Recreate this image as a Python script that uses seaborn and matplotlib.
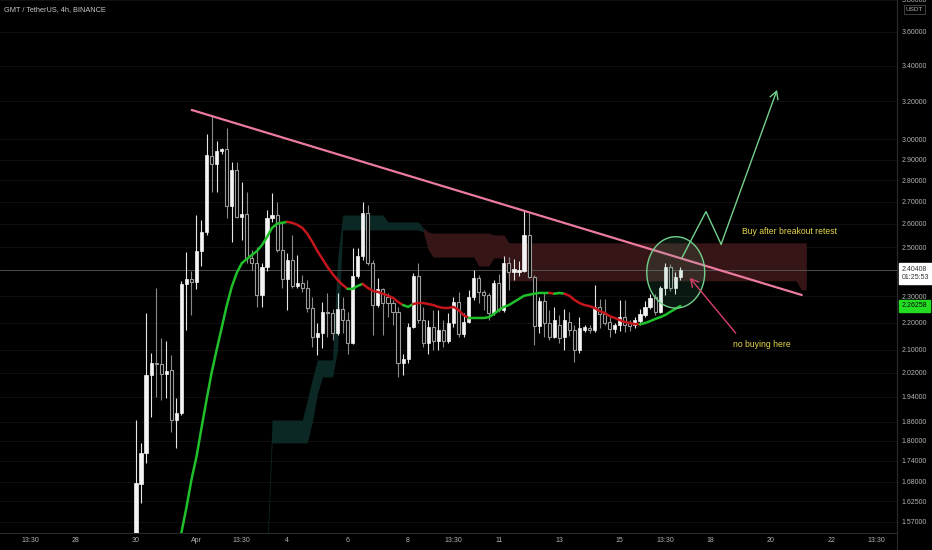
import numpy as np
import pandas as pd
import matplotlib
matplotlib.use("Agg")
import matplotlib.pyplot as plt
import matplotlib.transforms as mtransforms
from matplotlib.ticker import NullLocator
from matplotlib import font_manager
from matplotlib.lines import Line2D
import seaborn as sns

# GMT / USDT, 4h candles (candle 0 = Mar 30 00:00)
opens = [1.45, 1.673, 1.764, 2.013, 2.054, 2.05, 2.016, 2.03, 1.865, 1.887,
         2.349, 2.369, 2.355, 2.483, 2.565, 2.918, 2.877, 2.94, 2.95, 2.68,
         2.85, 2.63, 2.645, 2.454, 2.435, 2.305, 2.417, 2.627, 2.64, 2.488,
         2.369, 2.446, 2.341, 2.353, 2.333, 2.255, 2.147, 2.161, 2.24, 2.236,
         2.161, 2.25, 2.209, 2.125, 2.381, 2.463, 2.649, 2.433, 2.266, 2.329,
         2.298, 2.274, 2.24, 2.054, 2.068, 2.183, 2.381, 2.209, 2.125, 2.183,
         2.132, 2.172, 2.132, 2.198, 2.278, 2.158, 2.202, 2.298, 2.373, 2.317,
         2.305, 2.236, 2.353, 2.247, 2.433, 2.397, 2.397, 2.40, 2.552, 2.377,
         2.187, 2.282, 2.198, 2.147, 2.19, 2.147, 2.202, 2.172, 2.10, 2.172,
         2.18, 2.172, 2.259, 2.232, 2.202, 2.176, 2.19, 2.22, 2.198, 2.19,
         2.205, 2.228, 2.259, 2.298, 2.24, 2.333, 2.417, 2.333, 2.377]
closes = [1.676, 1.764, 2.013, 2.054, 2.05, 2.016, 2.028, 1.865, 1.887, 2.349,
          2.369, 2.355, 2.483, 2.565, 2.92, 2.877, 2.94, 2.95, 2.68, 2.85,
          2.63, 2.645, 2.454, 2.435, 2.305, 2.417, 2.627, 2.64, 2.488, 2.369,
          2.446, 2.341, 2.353, 2.333, 2.255, 2.147, 2.161, 2.24, 2.236, 2.161,
          2.25, 2.209, 2.125, 2.381, 2.463, 2.649, 2.433, 2.266, 2.329, 2.274,
          2.274, 2.24, 2.054, 2.068, 2.183, 2.381, 2.209, 2.125, 2.183, 2.132,
          2.172, 2.132, 2.198, 2.278, 2.158, 2.202, 2.298, 2.373, 2.317, 2.305,
          2.236, 2.353, 2.247, 2.433, 2.397, 2.409, 2.405, 2.552, 2.377, 2.187,
          2.282, 2.198, 2.147, 2.209, 2.143, 2.209, 2.172, 2.10, 2.18, 2.183,
          2.172, 2.259, 2.232, 2.198, 2.176, 2.19, 2.22, 2.19, 2.187, 2.209,
          2.232, 2.259, 2.294, 2.24, 2.333, 2.417, 2.333, 2.377, 2.404]
highs = [1.865, 1.794, 2.235, 2.089, 2.333, 2.143, 2.132, 2.083, 1.937, 2.361,
         2.479, 2.40, 2.64, 2.618, 3.03, 3.12, 2.99, 2.955, 3.06, 2.89,
         2.89, 2.79, 2.745, 2.488, 2.50, 2.433, 2.662, 2.74, 2.70, 2.605,
         2.475, 2.552, 2.467, 2.385, 2.365, 2.298, 2.198, 2.278, 2.313, 2.25,
         2.313, 2.298, 2.24, 2.496, 2.496, 2.70, 2.686, 2.446, 2.373, 2.333,
         2.313, 2.286, 2.259, 2.086, 2.198, 2.393, 2.433, 2.259, 2.209, 2.247,
         2.247, 2.209, 2.236, 2.298, 2.317, 2.236, 2.325, 2.405, 2.385, 2.325,
         2.313, 2.365, 2.389, 2.463, 2.458, 2.45, 2.44, 2.662, 2.65, 2.385,
         2.298, 2.313, 2.247, 2.259, 2.228, 2.25, 2.24, 2.19, 2.22, 2.19,
         2.19, 2.345, 2.29, 2.29, 2.22, 2.20, 2.286, 2.286, 2.21, 2.22,
         2.25, 2.28, 2.31, 2.31, 2.34, 2.433, 2.43, 2.397, 2.415]
lows = [1.42, 1.62, 1.734, 1.875, 1.94, 1.93, 1.937, 1.828, 1.779, 1.88,
        2.172, 2.228, 2.329, 2.42, 2.55, 2.745, 2.745, 2.925, 2.627, 2.52,
        2.625, 2.53, 2.433, 2.405, 2.259, 2.259, 2.40, 2.61, 2.48, 2.333,
        2.247, 2.333, 2.333, 2.317, 2.24, 2.111, 2.083, 2.108, 2.147, 2.136,
        2.155, 2.161, 2.086, 2.12, 2.373, 2.446, 2.425, 2.154, 2.259, 2.154,
        2.22, 2.19, 2.006, 2.013, 2.054, 2.18, 2.20, 2.111, 2.086, 2.10,
        2.10, 2.111, 2.125, 2.183, 2.147, 2.147, 2.198, 2.286, 2.274, 2.247,
        2.209, 2.228, 2.24, 2.24, 2.325, 2.365, 2.38, 2.397, 2.373, 2.118,
        2.161, 2.147, 2.136, 2.143, 2.125, 2.10, 2.15, 2.058, 2.09, 2.165,
        2.16, 2.165, 2.18, 2.19, 2.147, 2.16, 2.17, 2.165, 2.17, 2.18,
        2.19, 2.22, 2.25, 2.23, 2.236, 2.305, 2.32, 2.31, 2.365]

# trend moving average (starts at candle 8), green/red run lengths
ma_start = 8
ma_values = [1.478, 1.54, 1.607, 1.685, 1.752, 1.840, 1.930, 2.020, 2.100, 2.180,
             2.263, 2.337, 2.393, 2.433, 2.45, 2.467, 2.483, 2.509, 2.543, 2.583,
             2.601, 2.605, 2.609, 2.605, 2.596, 2.583, 2.557, 2.522, 2.483, 2.45,
             2.417, 2.389, 2.365, 2.345, 2.329, 2.329, 2.341, 2.349, 2.333, 2.321,
             2.317, 2.31, 2.302, 2.294, 2.278, 2.266, 2.259, 2.27, 2.274, 2.274,
             2.27, 2.266, 2.259, 2.255, 2.255, 2.259, 2.247, 2.228, 2.217, 2.217,
             2.217, 2.217, 2.22, 2.232, 2.247, 2.259, 2.266, 2.278, 2.29, 2.302,
             2.306, 2.31, 2.313, 2.313, 2.313, 2.31, 2.313, 2.31, 2.302, 2.286,
             2.274, 2.266, 2.262, 2.255, 2.243, 2.236, 2.224, 2.217, 2.209, 2.202,
             2.198, 2.194, 2.194, 2.198, 2.205, 2.213, 2.22, 2.228, 2.24, 2.251,
             2.26258]
ma_runs = [23, 12, 3, 8, 2, 11, 16, 1, 2, 15, 8]  # alternating, first run green

# cloud (starts at candle 26, runs past the last candle), teal run then red run
cloud_start = 26
cloud_top = ([1.50] + [1.865] * 7 + [1.93, 2.00, 2.065, 2.065, 2.065, 2.065, 2.45]
             + [2.64] * 9 + [2.609] * 7 + [2.583]
             + [2.565] + [2.56] * 9 + [2.56] * 3 + [2.552] * 3 + [2.518] * 60)
cloud_bot = ([1.46] + [1.794] * 7 + [1.794, 1.86, 1.95, 2.006, 2.006, 2.006, 2.10]
             + [2.574] * 9 + [2.574] * 7 + [2.565]
             + [2.488] + [2.458] * 9 + [2.421] * 3 + [2.454] * 3 + [2.361] * 58 + [2.325] * 2)
cloud_teal_len = 32

# drawings on the chart (candle index, price)
trend_x = [11.05, 132.1]
trend_y = [3.154, 2.305]
path_x = [108.3, 113.1, 116.1, 127.2]
path_y = [2.454, 2.655, 2.512, 3.263]
warn_x = [119.0, 109.9]
warn_y = [2.161, 2.373]
circle_x, circle_y = 107.1, 2.395
circle_rx, circle_ry = 5.75, 0.0605   # candles, log-price
buy_note = (120.3, 2.565, "Buy after breakout retest")
no_note = (118.4, 2.118, "no buying here")

last_price = 2.40408
countdown = "01:25:53"

price_ticks = [3.8, 3.6, 3.4, 3.2, 3.0, 2.9, 2.8, 2.7, 2.6, 2.5, 2.3, 2.2, 2.1,
               2.02, 1.94, 1.86, 1.80, 1.74, 1.68, 1.625, 1.57]
time_tick_pos = [-21, -12, 0, 12, 21, 30, 42, 54, 63, 72, 84, 96, 105, 114, 126, 138, 147]
time_tick_labels = ["13:30", "28", "30", "Apr", "13:30", "4", "6", "8", "13:30",
                    "11", "13", "15", "13:30", "18", "20", "22", "13:30"]

sns.set_theme(style="dark", rc={"axes.facecolor": "#000000", "figure.facecolor": "#000000",
                                "axes.edgecolor": "#2a2a2a"})
installed = {f.name for f in font_manager.fontManager.ttflist}
main_font = next((f for f in ["Liberation Sans Narrow", "Liberation Sans", "Roboto"] if f in installed),
                 "DejaVu Sans")
plt.rcParams["font.family"] = [main_font, "DejaVu Sans"]

txt = "#b4b4b4"
fig = plt.figure(figsize=(9.32, 5.5), dpi=100)
ax = fig.add_axes([0, 17 / 550, 897 / 932, 533 / 550])
ax.set_yscale("log")
ax.set_ylim(1.540, 3.800)
ax.set_xlim(-26.98, 151.0)

# cloud
cx = np.arange(cloud_start, cloud_start + len(cloud_top))
ax.fill_between(cx[:cloud_teal_len], cloud_top[:cloud_teal_len], cloud_bot[:cloud_teal_len],
                color="#0b2824", lw=0, zorder=1)
ax.fill_between(cx[cloud_teal_len - 1:], cloud_top[cloud_teal_len - 1:], cloud_bot[cloud_teal_len - 1:],
                color="#361517", lw=0, zorder=1)

ax.axhline(last_price, color="#5a5a5a", lw=0.6, zorder=2)

# candles
df = pd.DataFrame({"open": opens, "high": highs, "low": lows, "close": closes})
df["idx"] = np.arange(len(df))
up = df["close"] >= df["open"]
ax.vlines(df.idx[up], df.low[up], df.high[up], color="#e6e6e6", lw=0.8, zorder=3)
ax.vlines(df.idx[~up], df.low[~up], df.high[~up], color="#8a8a8a", lw=0.8, zorder=3)
ax.bar(df.idx[up], (df.close - df.open)[up], bottom=df.open[up], width=0.62,
       color="#f4f4f4", edgecolor="#f4f4f4", lw=0.5, zorder=4)
ax.bar(df.idx[~up], (df.open - df.close)[~up], bottom=df.close[~up], width=0.62,
       color="#000000", edgecolor="#9c9c9c", lw=0.8, zorder=4)

# moving average, coloured by trend
ma = pd.DataFrame({"idx": np.arange(ma_start, ma_start + len(ma_values)), "ma": ma_values})
pos = 0
for k, n in enumerate(ma_runs):
    seg = ma.iloc[max(pos - 1, 0):pos + n]
    sns.lineplot(data=seg, x="idx", y="ma", ax=ax, color="#1fc02a" if k % 2 == 0 else "#c4161c",
                 lw=1.8, sort=False, estimator=None, zorder=5)
    pos += n

# drawings
ax.plot(trend_x, trend_y, color="#ec7aa0", lw=1.6, zorder=6, solid_capstyle="round")
t = np.linspace(0, 2 * np.pi, 240)
ax.fill(circle_x + circle_rx * np.cos(t), np.exp(np.log(circle_y) + circle_ry * np.sin(t)),
        fc=(0.3, 0.8, 0.55, 0.12), ec="#74d08c", lw=1.0, zorder=6)
ax.plot(path_x[:-1], path_y[:-1], color="#74d08c", lw=1.0, zorder=7)
ax.annotate("", xy=(path_x[-1], path_y[-1]), xytext=(path_x[-2], path_y[-2]),
            arrowprops=dict(arrowstyle="->,head_length=0.45,head_width=0.25", color="#74d08c",
                            lw=1.0, shrinkA=0, shrinkB=0), zorder=7)
ax.annotate("", xy=(warn_x[1], warn_y[1]), xytext=(warn_x[0], warn_y[0]),
            arrowprops=dict(arrowstyle="->,head_length=0.45,head_width=0.25", color="#d8406c",
                            lw=1.0, shrinkA=0, shrinkB=0), zorder=7)
for nx, ny, s in (buy_note, no_note):
    ax.text(nx, ny, s, color="#e6d84a", fontsize=6.2, ha="left", va="center", zorder=8)

# axes
ax.yaxis.tick_right()
ax.set_yticks(price_ticks)
ax.set_yticklabels([f"{p:.5f}" for p in price_ticks])
ax.yaxis.set_minor_locator(NullLocator())
ax.set_xticks(time_tick_pos)
ax.set_xticklabels(time_tick_labels)
ax.tick_params(axis="y", length=0, pad=3.5, labelsize=5, labelcolor=txt)
ax.tick_params(axis="x", length=0, pad=3, labelsize=5, labelcolor=txt)
ax.grid(axis="y", color="#121212", lw=0.6)
ax.grid(axis="x", visible=False)
ax.set_xlabel("")
ax.set_ylabel("")
for side in ("top", "left"):
    ax.spines[side].set_visible(False)
for side in ("bottom", "right"):
    ax.spines[side].set_color("#2a2a2a")
    ax.spines[side].set_linewidth(0.8)
fig.add_artist(Line2D([897 / 932, 897 / 932], [0, 1], color="#2a2a2a", lw=0.8,
                      transform=fig.transFigure))

# price labels on the scale
blend = mtransforms.blended_transform_factory(ax.transAxes, ax.transData)
ax.annotate(f"{last_price:.5f}\n{countdown}", xy=(1.0, last_price), xycoords=blend,
            xytext=(3.5, 3.2), textcoords="offset points", ha="left", va="top",
            fontsize=5, color="#333333", linespacing=1.3, annotation_clip=False,
            bbox=dict(boxstyle="square,pad=0.45", fc="#ffffff", ec="#ffffff"), zorder=10)
ax.text(1.005, ma_values[-1], f"{ma_values[-1]:.5f}", transform=blend, ha="left",
        va="center", fontsize=5, color="#0a0a0a", clip_on=False,
        bbox=dict(boxstyle="square,pad=0.4", fc="#22dd22", ec="#22dd22"), zorder=10)

fig.text(4 / 932, 1 - 10 / 550, "GMT / TetherUS, 4h, BINANCE", color="#c8c8c8",
         fontsize=5.3, ha="left", va="center")
fig.text(914.5 / 932, 1 - 9.5 / 550, "USDT", color=txt, fontsize=4.6, ha="center", va="center",
         bbox=dict(boxstyle="square,pad=0.25", fc="none", ec="#4a4a4a", lw=0.6))

fig.savefig("out.png", dpi=100, facecolor="#000000")
